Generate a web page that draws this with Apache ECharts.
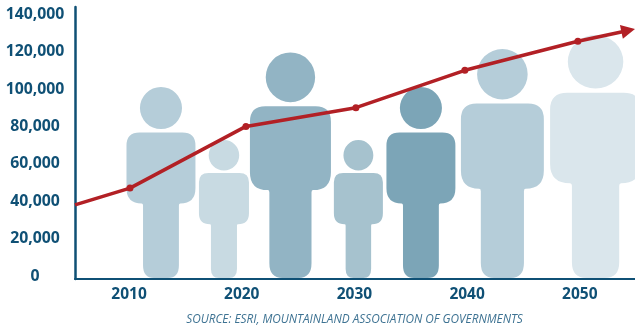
<!DOCTYPE html>
<html>
<head>
<meta charset="utf-8">
<style>html,body{margin:0;padding:0;background:#fff}#chart{width:635px;height:326px}</style>
<script src="https://cdn.jsdelivr.net/npm/echarts@6/dist/echarts.min.js"></script>
</head>
<body>
<div id="chart"></div>
<script>
// Population trend, with a row of people behind the line
const yearTicks = [2010, 2020, 2030, 2040, 2050];
const valueTicks = [0, 20000, 40000, 60000, 80000, 100000, 120000, 140000];
const lineYears = [2005.2, 2010.08, 2020.37, 2030.13, 2039.8, 2049.83];
const lineValues = [38000, 47000, 80000, 90000, 110000, 125500];
const arrowEnd = [2054.3, 131300];
const sourceNote = 'SOURCE: ESRI, MOUNTAINLAND ASSOCIATION OF GOVERNMENTS';

// People: centre along the year axis, head-top value, width in years, fill
const figureCentres = [2012.83, 2018.42, 2024.32, 2030.35, 2035.9, 2043.13, 2051.4];
const figureTops = [101070, 72730, 119530, 72730, 101070, 121400, 128900];
const figureWidths = [6.12, 4.44, 7.19, 4.35, 6.12, 7.36, 8.07];
const figureFills = ['#b5cdd9', '#c8dae2', '#92b4c4', '#a6c2ce', '#7ca5b7', '#b5cdd9', '#dae6ec'];

const INK = '#0f5075';
const RED = '#b22025';
const FONT = '"Open Sans", sans-serif';
const AXIS_MIN = -1604;
const AXIS_MAX = 143851;

// Person outline in a 100 x 277 box: round head, rounded torso, narrower legs
const PERSON_PATH =
  'M50 0A30.5 30.5 0 1 1 50 61A30.5 30.5 0 1 1 50 0Z' +
  'M19 66L81 66Q100 66 100 85L100 147Q100 169 78 169Q76 169 76 172L76 259Q76 277 60 277L40 277Q24 277 24 259L24 172Q24 169 22 169Q0 169 0 147L0 85Q0 66 19 66Z';

const chart = echarts.init(document.getElementById('chart'), null, { renderer: 'canvas' });
chart.setOption({
  animation: false,
  backgroundColor: '#fff',
  title: {
    text: sourceNote,
    left: 349.5,
    top: 309,
    textAlign: 'center',
    textStyle: { color: '#3d7292', fontFamily: FONT, fontStyle: 'italic', fontWeight: 'normal', fontSize: 11.8 }
  },
  grid: { left: 75, right: 0, top: 7, bottom: 47 },
  xAxis: {
    type: 'value',
    min: 2005.2,
    max: 2054.9,
    splitLine: { show: false },
    axisTick: { show: false },
    axisLine: { show: true, onZero: false, lineStyle: { color: INK, width: 2 } },
    axisLabel: {
      customValues: yearTicks,
      formatter: v => String(v),
      color: INK, fontFamily: FONT, fontWeight: 'bold', fontSize: 15.5, margin: 8
    }
  },
  yAxis: {
    type: 'value',
    min: AXIS_MIN,
    max: AXIS_MAX,
    splitLine: { show: false },
    axisTick: { show: false },
    axisLine: { show: true, onZero: false, lineStyle: { color: INK, width: 2.5 } },
    axisLabel: {
      customValues: valueTicks,
      formatter: v => v.toLocaleString('en-US'),
      align: 'center',
      margin: 40,
      padding: [4, 0, 0, 0],
      color: INK, fontFamily: FONT, fontWeight: 'bold', fontSize: 15.8
    }
  },
  series: [
    {
      type: 'custom',
      z: 1,
      clip: true,
      silent: true,
      data: figureCentres.map((c, i) => [c, figureTops[i], figureWidths[i]]),
      encode: { x: 0, y: 1 },
      renderItem(params, api) {
        const i = params.dataIndex;
        const topLeft = api.coord([api.value(0) - api.value(2) / 2, api.value(1)]);
        const bottomRight = api.coord([api.value(0) + api.value(2) / 2, AXIS_MIN]);
        return {
          type: 'path',
          shape: {
            pathData: PERSON_PATH,
            layout: 'cover',
            x: topLeft[0],
            y: topLeft[1],
            width: bottomRight[0] - topLeft[0],
            height: bottomRight[1] - topLeft[1] - 1
          },
          style: { fill: figureFills[i] }
        };
      }
    },
    {
      type: 'line',
      z: 3,
      silent: true,
      data: lineYears.map((y, i) => ({
        value: [y, lineValues[i]],
        symbol: i === 0 ? 'none' : 'circle',
        symbolSize: 7
      })),
      lineStyle: { color: RED, width: 3.5, cap: 'butt' },
      itemStyle: { color: RED },
      markLine: {
        silent: true,
        animation: false,
        symbol: ['none', 'triangle'],
        symbolSize: 14,
        label: { show: false },
        lineStyle: { color: RED, width: 3.5, type: 'solid' },
        data: [[
          { coord: [lineYears[lineYears.length - 1], lineValues[lineValues.length - 1]] },
          { coord: arrowEnd }
        ]]
      }
    }
  ]
});
</script>
</body>
</html>
